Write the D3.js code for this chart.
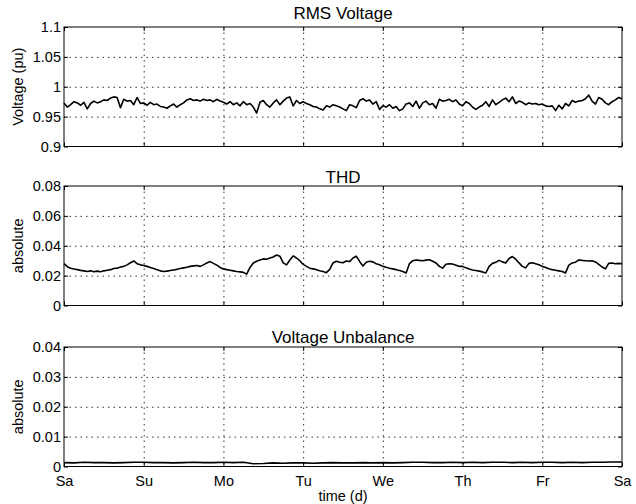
<!DOCTYPE html>
<html>
<head>
  <title>RMS Voltage, THD and Voltage Unbalance over one week</title>
  <style>
    html, body { margin: 0; padding: 0; background: #fff; }
    svg { display: block; font-family: "Liberation Sans", Arial, Helvetica, sans-serif; }
    .grid line { stroke: #000; stroke-width: 0.8; stroke-dasharray: 1.5,4; }
    .grid path { display: none; }
    .ticks path { display: none; }
    .ticks line { stroke: #000; stroke-width: 1; }
    .ticks text { font-size: 14.5px; fill: #000; }
    .title { font-size: 17px; text-anchor: middle; }
    .ylabel { font-size: 14.5px; text-anchor: middle; }
  </style>
</head>
<body>
  <svg id="chart" width="636" height="504"></svg>

  <script src="https://d3js.org/d3.v7.min.js"></script>
  <script>
    // x axis: hours from Saturday 00:00, one sample per stepHours
    const dayLabels = ["Sa", "Su", "Mo", "Tu", "We", "Th", "Fr", "Sa"];
    const dayTicks = [0, 24, 48, 72, 96, 120, 144, 168];
    const stepHours = 1;
    const unbalanceStepHours = 3;

    // RMS voltage (pu), hourly
    const rmsVoltage = [
      0.973, 0.966, 0.970, 0.975, 0.973, 0.969, 0.974, 0.963, 0.972, 0.976, 0.973, 0.975,
      0.978, 0.977, 0.981, 0.983, 0.982, 0.965, 0.979, 0.976, 0.977, 0.970, 0.982, 0.972,
      0.973, 0.969, 0.974, 0.970, 0.971, 0.967, 0.966, 0.964, 0.968, 0.971, 0.966, 0.970,
      0.973, 0.978, 0.980, 0.977, 0.978, 0.976, 0.979, 0.977, 0.978, 0.975, 0.979, 0.976,
      0.974, 0.971, 0.975, 0.970, 0.973, 0.968, 0.975, 0.970, 0.972, 0.966, 0.956, 0.974,
      0.977, 0.970, 0.966, 0.973, 0.978, 0.970, 0.976, 0.981, 0.983, 0.968, 0.977, 0.972,
      0.975, 0.972, 0.970, 0.967, 0.966, 0.963, 0.961, 0.968, 0.966, 0.970, 0.968, 0.966,
      0.963, 0.960, 0.970, 0.968, 0.965, 0.977, 0.980, 0.976, 0.978, 0.971, 0.975, 0.962,
      0.968, 0.966, 0.970, 0.964, 0.967, 0.960, 0.963, 0.971, 0.973, 0.967, 0.976, 0.964,
      0.973, 0.976, 0.970, 0.972, 0.964, 0.979, 0.976, 0.977, 0.979, 0.975, 0.978, 0.971,
      0.968, 0.975, 0.972, 0.966, 0.962, 0.966, 0.969, 0.975, 0.967, 0.978, 0.970, 0.974,
      0.978, 0.981, 0.975, 0.983, 0.972, 0.976, 0.974, 0.970, 0.973, 0.971, 0.972, 0.970,
      0.971, 0.968, 0.967, 0.968, 0.960, 0.969, 0.963, 0.972, 0.968, 0.977, 0.974, 0.976,
      0.977, 0.980, 0.986, 0.976, 0.971, 0.982, 0.979, 0.973, 0.970, 0.975, 0.978, 0.982,
      0.980
    ];

    // THD (absolute), hourly
    const thd = [
      0.0280, 0.0260, 0.0250, 0.0244, 0.0240, 0.0235, 0.0232, 0.0228, 0.0232, 0.0226, 0.0230, 0.0226,
      0.0232, 0.0236, 0.0240, 0.0248, 0.0250, 0.0258, 0.0262, 0.0272, 0.0286, 0.0298, 0.0280, 0.0272,
      0.0268, 0.0262, 0.0255, 0.0248, 0.0240, 0.0232, 0.0228, 0.0230, 0.0234, 0.0238, 0.0242, 0.0248,
      0.0252, 0.0256, 0.0262, 0.0265, 0.0268, 0.0262, 0.0272, 0.0285, 0.0294, 0.0282, 0.0270, 0.0255,
      0.0245, 0.0240, 0.0236, 0.0232, 0.0228, 0.0225, 0.0222, 0.0210, 0.0255, 0.0284, 0.0296, 0.0305,
      0.0312, 0.0310, 0.0318, 0.0325, 0.0338, 0.0330, 0.0285, 0.0272, 0.0305, 0.0332, 0.0318, 0.0300,
      0.0275, 0.0262, 0.0250, 0.0245, 0.0240, 0.0233, 0.0228, 0.0220, 0.0242, 0.0285, 0.0296, 0.0290,
      0.0286, 0.0298, 0.0294, 0.0318, 0.0330, 0.0295, 0.0265, 0.0290, 0.0296, 0.0292, 0.0280, 0.0273,
      0.0262, 0.0256, 0.0250, 0.0245, 0.0240, 0.0234, 0.0228, 0.0218, 0.0280, 0.0300, 0.0305, 0.0302,
      0.0300, 0.0304, 0.0306, 0.0296, 0.0285, 0.0262, 0.0250, 0.0276, 0.0280, 0.0278, 0.0270, 0.0262,
      0.0262, 0.0252, 0.0244, 0.0238, 0.0234, 0.0230, 0.0225, 0.0218, 0.0262, 0.0282, 0.0290, 0.0302,
      0.0292, 0.0285, 0.0315, 0.0328, 0.0310, 0.0285, 0.0262, 0.0252, 0.0282, 0.0286, 0.0280, 0.0273,
      0.0262, 0.0255, 0.0246, 0.0240, 0.0236, 0.0232, 0.0228, 0.0218, 0.0270, 0.0285, 0.0290, 0.0305,
      0.0302, 0.0300, 0.0298, 0.0300, 0.0292, 0.0275, 0.0258, 0.0245, 0.0282, 0.0285, 0.0280, 0.0282,
      0.0280
    ];

    // voltage unbalance (absolute), every 3 hours
    const unbalance = [
      0.0013, 0.0012, 0.0014, 0.0013, 0.0013, 0.0012, 0.0013, 0.0014,
      0.0014, 0.0013, 0.0013, 0.0012, 0.0013, 0.0014, 0.0013, 0.0013,
      0.0014, 0.0013, 0.0014, 0.0009, 0.0010, 0.0012, 0.0011, 0.0012,
      0.0012, 0.0011, 0.0012, 0.0013, 0.0012, 0.0012, 0.0013, 0.0012,
      0.0013, 0.0012, 0.0013, 0.0014, 0.0014, 0.0013, 0.0013, 0.0014,
      0.0013, 0.0014, 0.0013, 0.0014, 0.0014, 0.0013, 0.0014, 0.0013,
      0.0014, 0.0014, 0.0013, 0.0014, 0.0013, 0.0014, 0.0014, 0.0015,
      0.0015
    ];

    const voltageTicks = [0.9, 0.95, 1, 1.05, 1.1];
    const thdTicks = [0, 0.02, 0.04, 0.06, 0.08];
    const unbalanceTicks = [0, 0.01, 0.02, 0.03, 0.04];

    const panels = [
      { title: "RMS Voltage", ylabel: "Voltage (pu)", values: rmsVoltage, step: stepHours,
        domain: [0.9, 1.1], ticks: voltageTicks, top: 27, titleY: 19 },
      { title: "THD", ylabel: "absolute", values: thd, step: stepHours,
        domain: [0, 0.08], ticks: thdTicks, top: 186, titleY: 183 },
      { title: "Voltage Unbalance", ylabel: "absolute", values: unbalance, step: unbalanceStepHours,
        domain: [0, 0.04], ticks: unbalanceTicks, top: 347, titleY: 343 }
    ];

    const left = 64, right = 622, plotH = 119.5;
    const width = right - left;

    const svg = d3.select("#chart");

    const x = d3.scaleLinear().domain([0, 168]).range([0, width]);

    panels.forEach((p, pi) => {
      const g = svg.append("g").attr("transform", `translate(${left},${p.top})`);
      const y = d3.scaleLinear().domain(p.domain).range([plotH, 0]);

      // dotted grid
      g.append("g").attr("class", "grid")
        .call(d3.axisBottom(x).tickValues(dayTicks.slice(1, -1)).tickSize(plotH).tickFormat(""));
      g.append("g").attr("class", "grid")
        .call(d3.axisRight(y).tickValues(p.ticks.slice(1, -1)).tickSize(width).tickFormat(""));

      // data line
      g.append("path")
        .datum(p.values)
        .attr("fill", "none")
        .attr("stroke", "#000")
        .attr("stroke-width", 1.6)
        .attr("stroke-linejoin", "round")
        .attr("d", d3.line().x((d, i) => x(i * p.step)).y(d => y(d)));

      // inward ticks on all four sides
      const isLast = pi === panels.length - 1;
      g.append("g").attr("class", "ticks")
        .call(d3.axisLeft(y).tickValues(p.ticks).tickSizeInner(-4).tickSizeOuter(0).tickPadding(3)
          .tickFormat(d3.format("~g")));
      g.append("g").attr("class", "ticks").attr("transform", `translate(${width},0)`)
        .call(d3.axisRight(y).tickValues(p.ticks).tickSizeInner(-4).tickSizeOuter(0).tickFormat(""));
      g.append("g").attr("class", "ticks")
        .call(d3.axisTop(x).tickValues(dayTicks).tickSizeInner(-4).tickSizeOuter(0).tickFormat(""));
      const bottom = g.append("g").attr("class", "ticks").attr("transform", `translate(0,${plotH})`)
        .call(d3.axisBottom(x).tickValues(dayTicks).tickSizeInner(-4).tickSizeOuter(0).tickPadding(6)
          .tickFormat((d, i) => isLast ? dayLabels[i] : ""));
      bottom.selectAll("text").attr("dy", "0.9em");

      // box
      g.append("rect")
        .attr("width", width).attr("height", plotH)
        .attr("fill", "none").attr("stroke", "#000").attr("stroke-width", 1);

      svg.append("text").attr("class", "title")
        .attr("x", left + width / 2).attr("y", p.titleY)
        .text(p.title);

      svg.append("text").attr("class", "ylabel")
        .attr("transform", `translate(23,${p.top + plotH / 2}) rotate(-90)`)
        .text(p.ylabel);
    });

    svg.append("text").attr("class", "ylabel")
      .attr("x", left + width / 2).attr("y", 501)
      .text("time (d)");
  </script>
</body>
</html>
